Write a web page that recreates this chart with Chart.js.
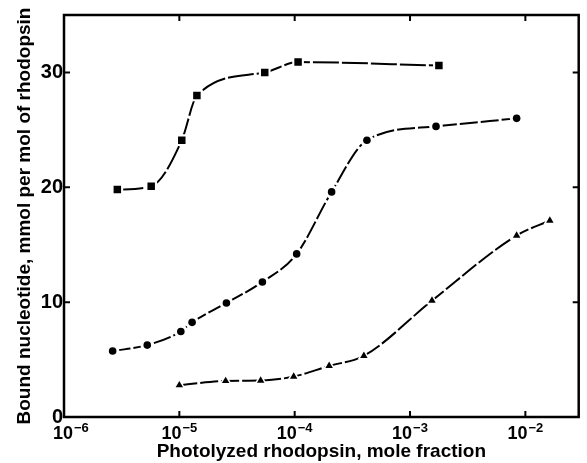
<!DOCTYPE html>
<html>
<head>
<meta charset="utf-8">
<script src="https://cdn.jsdelivr.net/npm/chart.js@4/dist/chart.umd.min.js"></script>
<style>
  html, body { margin: 0; padding: 0; background: #fff; }
  #wrap { width: 587px; height: 463px; position: relative; }
</style>
</head>
<body>
<div id="wrap"><canvas id="c" width="587" height="463"></canvas></div>
<script>
// ---- Data ----
const squareX = [2.9e-6, 5.7e-6, 1.05e-5, 1.42e-5, 5.5e-5, 1.07e-4, 1.78e-3];
const squareY = [19.8, 20.1, 24.1, 28.0, 30.0, 30.9, 30.6];

const circleX = [2.64e-6, 5.27e-6, 1.03e-5, 1.29e-5, 2.56e-5, 5.25e-5, 1.04e-4, 2.09e-4, 4.23e-4, 1.68e-3, 8.4e-3];
const circleY = [5.74, 6.26, 7.45, 8.24, 9.93, 11.76, 14.2, 19.6, 24.1, 25.3, 26.0];

const triangleX = [1.0e-5, 2.52e-5, 5.07e-5, 9.8e-5, 1.99e-4, 3.98e-4, 1.55e-3, 8.4e-3, 1.63e-2];
const triangleY = [2.77, 3.14, 3.17, 3.52, 4.45, 5.33, 10.13, 15.8, 17.1];

const xTickValues = [1e-6, 1e-5, 1e-4, 1e-3, 1e-2];
const xTickBase = '10';
const xTickExponents = ['\u22126', '\u22125', '\u22124', '\u22123', '\u22122'];
const yTickValues = [0, 10, 20, 30];

const xTitle = 'Photolyzed rhodopsin, mole fraction';
const yTitle = 'Bound nucleotide, mmol per mol of rhodopsin';

// ---- Build datasets ----
const pts = (xs, ys) => xs.map((x, i) => ({ x: x, y: ys[i] }));
const FONT = "'Liberation Sans', Arial, 'DejaVu Sans', sans-serif";

function curve(xs, ys, style, r, dash) {
  return {
    type: 'line',
    data: pts(xs, ys),
    borderColor: '#000',
    borderWidth: 2,
    borderDash: dash,
    cubicInterpolationMode: 'monotone',
    pointStyle: style,
    pointRadius: r + 3,
    pointHoverRadius: r + 3,
    pointBackgroundColor: '#fff',
    pointBorderWidth: 0,
    fill: false,
    order: 2
  };
}
function markers(xs, ys, style, r) {
  return {
    type: 'scatter',
    data: pts(xs, ys),
    showLine: false,
    pointStyle: style,
    pointRadius: r,
    pointHoverRadius: r,
    pointBackgroundColor: '#000',
    pointBorderColor: '#000',
    pointBorderWidth: 0,
    order: 1
  };
}

const frame = {
  id: 'frame',
  afterDraw(chart) {
    const { ctx, chartArea: a, scales } = chart;
    ctx.save();
    ctx.strokeStyle = '#000';
    ctx.lineWidth = 2.5;
    ctx.strokeRect(a.left, a.top, a.right - a.left, a.bottom - a.top);
    ctx.lineWidth = 2;
    const L = 6;
    xTickValues.forEach(v => {
      const px = scales.x.getPixelForValue(v);
      if (px <= a.left + 2 || px >= a.right - 2) return;
      ctx.beginPath();
      ctx.moveTo(px, a.bottom); ctx.lineTo(px, a.bottom - L);
      ctx.moveTo(px, a.top); ctx.lineTo(px, a.top + L);
      ctx.stroke();
    });
    yTickValues.forEach(v => {
      const py = scales.y.getPixelForValue(v);
      if (py >= a.bottom - 2 || py <= a.top + 2) return;
      ctx.beginPath();
      ctx.moveTo(a.left, py); ctx.lineTo(a.left + L, py);
      ctx.moveTo(a.right, py); ctx.lineTo(a.right - L, py);
      ctx.stroke();
    });
    // x tick labels: "10" with a raised exponent
    ctx.fillStyle = '#000';
    ctx.textBaseline = 'alphabetic';
    ctx.textAlign = 'left';
    const baseFont = 'bold 18px ' + FONT;
    const expFont = 'bold 13px ' + FONT;
    const baseY = a.bottom + 22;
    xTickValues.forEach((v, i) => {
      const px = scales.x.getPixelForValue(v);
      ctx.font = baseFont;
      const wb = ctx.measureText(xTickBase).width;
      ctx.font = expFont;
      const we = ctx.measureText(xTickExponents[i]).width;
      const gap = 1;
      let left = px - (wb + gap + we) / 2;
      if (left < a.left - 11) left = a.left - 11;
      ctx.font = baseFont;
      ctx.fillText(xTickBase, left, baseY);
      ctx.font = expFont;
      ctx.fillText(xTickExponents[i], left + wb + gap, baseY - 7);
    });
    ctx.restore();
  }
};

new Chart(document.getElementById('c'), {
  data: {
    datasets: [
      curve(squareX, squareY, 'rect', 5.3, [26, 3]),
      markers(squareX, squareY, 'rect', 5.3),
      curve(circleX, circleY, 'circle', 3.8, [18, 3]),
      markers(circleX, circleY, 'circle', 3.8),
      curve(triangleX, triangleY, 'triangle', 4.3, [18, 3]),
      markers(triangleX, triangleY, 'triangle', 4.3)
    ]
  },
  options: {
    responsive: false,
    animation: false,
    layout: { padding: { top: 15, right: 4, left: 13, bottom: 0 } },
    plugins: { legend: { display: false }, tooltip: { enabled: false } },
    scales: {
      x: {
        type: 'logarithmic',
        min: 1e-6,
        max: 0.029,
        afterBuildTicks: s => { s.ticks = xTickValues.map(v => ({ value: v })); },
        afterFit: s => { s.height = 46; },
        grid: { display: false, drawTicks: false },
        border: { display: false },
        ticks: { display: false },
        title: {
          display: true,
          text: xTitle,
          color: '#000',
          padding: { top: 0, bottom: 0 },
          font: { family: FONT, size: 19, weight: 'bold' }
        }
      },
      y: {
        min: 0,
        max: 35,
        afterBuildTicks: s => { s.ticks = yTickValues.map(v => ({ value: v })); },
        afterFit: s => { s.width = 51; },
        grid: { display: false, drawTicks: false },
        border: { display: false },
        ticks: {
          color: '#000',
          padding: 1,
          font: { family: FONT, size: 20, weight: 'bold' }
        },
        title: {
          display: true,
          text: yTitle,
          color: '#000',
          padding: { top: 0, bottom: 0 },
          font: { family: FONT, size: 19, weight: 'bold' }
        }
      }
    }
  },
  plugins: [frame]
});
</script>
</body>
</html>
